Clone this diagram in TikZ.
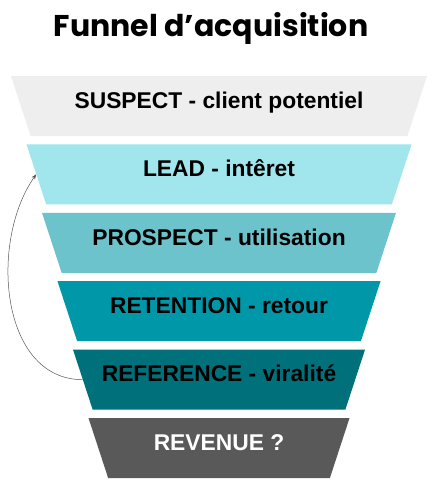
\documentclass[tikz,border=0pt]{standalone}
\usepackage{fontspec}
\setmainfont{Liberation Sans}
\newfontfamily\titlefont{Poppins}
\usepackage{xcolor}
\usepackage{tikz}
\usetikzlibrary{arrows.meta,positioning,shapes.geometric}
\definecolor{ink}{HTML}{000000}
\definecolor{paper}{HTML}{FFFFFF}
\definecolor{suspect}{HTML}{EEEEEE}
\definecolor{lead}{HTML}{A1E6EC}
\definecolor{prospect}{HTML}{6CC3CC}
\definecolor{retention}{HTML}{0098A8}
\definecolor{reference}{HTML}{00707B}
\definecolor{revenue}{HTML}{595959}
\definecolor{loop}{HTML}{555555}
\tikzset{
  stage/.style={trapezium,shape border rotate=180,trapezium left angle=67.4,trapezium right angle=67.4,
    trapezium stretches body,minimum height=60pt,inner xsep=0pt,inner ysep=18.6pt,
    text height=0.72em,text depth=0.28em,
    font=\fontsize{22.8}{26}\selectfont\bfseries,text=ink},
  heading/.style={font=\titlefont\fontsize{30}{36}\selectfont\bfseries,text=ink,inner sep=0pt},
  back/.style={-{Stealth[length=5pt,width=4pt]},draw=loop,line width=0.5pt},
  >=Stealth}
\begin{document}
\begin{tikzpicture}[x=1pt,y=1pt,node distance=8pt]
\useasboundingbox[fill=paper] (0,0) rectangle (432,-482);

\node[heading] (title) at (211,-28) {Funnel d’acquisition};
\node[stage,fill=suspect,minimum width=416pt] (s) at (219,-106) {SUSPECT - client potentiel};
\node[stage,fill=lead,minimum width=385pt,below=of s] (l) {LEAD - intêret};
\node[stage,fill=prospect,minimum width=354pt,below=of l] (p) {PROSPECT - utilisation};
\node[stage,fill=retention,minimum width=323pt,below=of p] (r) {RETENTION - retour};
\node[stage,fill=reference,minimum width=292pt,below=of r] (f) {REFERENCE - viralité};
\node[stage,fill=revenue,minimum width=261pt,text=paper,below=of f] (v) {REVENUE ?};

\draw[back] (f.west) to[out=180,in=235,looseness=1.0] (l.west);
\end{tikzpicture}
\end{document}
